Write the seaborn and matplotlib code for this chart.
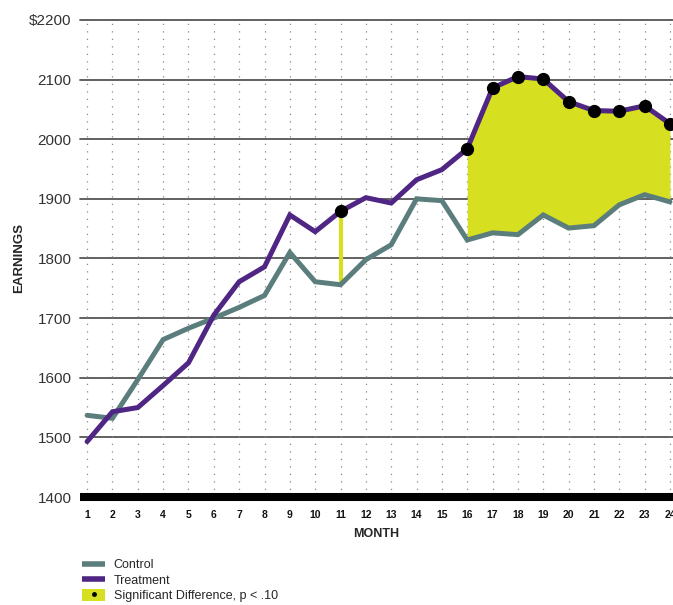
import numpy as np
import pandas as pd
import matplotlib
matplotlib.use("Agg")
import matplotlib.pyplot as plt
import seaborn as sns
from matplotlib.lines import Line2D
from matplotlib.patches import Patch

months = list(range(1, 25))
control = [1537, 1532, 1597, 1664, 1683, 1700, 1718, 1738, 1810, 1761, 1756, 1798,
           1823, 1900, 1897, 1831, 1843, 1840, 1873, 1851, 1855, 1890, 1907, 1895]
treatment = [1493, 1543, 1550, 1587, 1625, 1705, 1761, 1786, 1873, 1845, 1879, 1902,
             1893, 1932, 1949, 1984, 2086, 2105, 2101, 2063, 2048, 2047, 2056, 2026]
significant = [11, 16, 17, 18, 19, 20, 21, 22, 23, 24]
y_ticks = [1400, 1500, 1600, 1700, 1800, 1900, 2000, 2100, 2200]
y_labels = ["1400", "1500", "1600", "1700", "1800", "1900", "2000", "2100", "$2200"]

C_CONTROL = "#5b7e7d"
C_TREAT = "#4f2683"
C_SIG = "#d6df20"

sns.set_theme(style="white")
plt.rcParams["font.family"] = ["Liberation Sans", "DejaVu Sans"]

df = pd.DataFrame({
    "month": months * 2,
    "earnings": control + treatment,
    "group": ["Control"] * 24 + ["Treatment"] * 24,
})

fig = plt.figure(figsize=(6.73, 6.05), dpi=100)
ax = fig.add_axes([0.1189, 0.1785, 0.8811, 0.7885])

ax.set_xlim(0.72, 24.12)
ax.set_ylim(1400, 2200)

# grid
for yv in y_ticks[1:]:
    ax.axhline(yv, color="#555555", lw=1.3, zorder=1, clip_on=False)
for m in months:
    ax.axvline(m, color="#8a8a8a", lw=0.9, dashes=(1, 5), zorder=1)

# significance shading
mon = np.array(months)
c = np.array(control)
t = np.array(treatment)
sig = np.isin(mon, significant)
runs = []
cur = []
for m in months:
    if m in significant:
        cur.append(m)
    else:
        if cur:
            runs.append(cur)
        cur = []
if cur:
    runs.append(cur)
for r in runs:
    idx = [months.index(m) for m in r]
    if len(idx) == 1:
        i = idx[0]
        ax.vlines(mon[i], c[i], t[i], color=C_SIG, lw=3, zorder=2)
    else:
        ax.fill_between(mon[idx], c[idx], t[idx], color=C_SIG, lw=0, zorder=2)

sns.lineplot(data=df, x="month", y="earnings", hue="group",
             palette={"Control": C_CONTROL, "Treatment": C_TREAT},
             lw=3.6, ax=ax, legend=False, zorder=3)
for line in ax.get_lines()[-2:]:
    line.set_solid_joinstyle("miter")

ax.plot(mon[sig], t[sig], "o", color="black", ms=8.5, zorder=4, clip_on=False)

# axes styling
for s in ["top", "right", "left"]:
    ax.spines[s].set_visible(False)
ax.spines["bottom"].set_linewidth(5.8)
ax.spines["bottom"].set_color("black")
ax.spines["bottom"].set_capstyle("butt")
ax.spines["bottom"].set_zorder(5)

ax.set_xticks(months)
ax.set_xticklabels([str(m) for m in months], fontsize=7.5, fontweight="bold", color="#111111")
ax.set_yticks(y_ticks)
ax.set_yticklabels(y_labels, fontsize=11, color="#333333")
ax.tick_params(axis="x", length=0, pad=9)
ax.tick_params(axis="y", length=0, pad=6)
ax.set_xlabel("MONTH", fontsize=9, fontweight="bold", labelpad=6)
ax.set_ylabel("EARNINGS", fontsize=9.5, fontweight="bold", labelpad=3)

handles = [
    Line2D([], [], color=C_CONTROL, lw=4, solid_capstyle="butt"),
    Line2D([], [], color=C_TREAT, lw=4, solid_capstyle="butt"),
    (Patch(facecolor=C_SIG, edgecolor="none"),
     Line2D([], [], marker="o", color="black", ms=2.5, lw=0)),
]
fig.legend(handles, ["Control", "Treatment", "Significant Difference, p < .10"],
           loc="upper left", bbox_to_anchor=(0.113, 0.087), frameon=False,
           fontsize=9, handlelength=1.8, handleheight=1.0, labelspacing=0.2,
           handletextpad=0.7, borderpad=0)

fig.savefig("out.png", dpi=100)
